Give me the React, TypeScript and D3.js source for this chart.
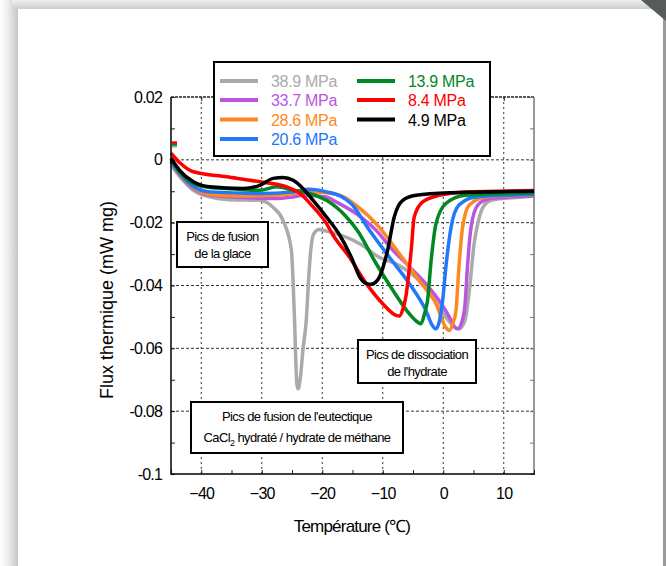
import React, { useEffect, useRef } from 'react';
import * as d3 from 'd3';

// thermograms, [temperature °C, heat flux mW/mg]
const s389: [number, number][] = [
  [-45, -0.0017], [-43.5, -0.0054], [-41.3, -0.0097], [-38.6, -0.0118], [-35.8, -0.0126], [-30.3, -0.0129],
  [-28.2, -0.015], [-26.5, -0.0192], [-25.1, -0.0288], [-24.6, -0.05], [-24.2, -0.0713], [-24.0, -0.0729],
  [-23.6, -0.069], [-23.2, -0.0607], [-22.6, -0.05], [-22.3, -0.0394], [-21.9, -0.0288], [-21.4, -0.0235],
  [-20.5, -0.0222], [-19.9, -0.0224], [-17.7, -0.0235], [-13.8, -0.0267], [-10.6, -0.031], [-7.3, -0.0336],
  [-4, -0.0384], [-1.8, -0.0437], [0.4, -0.05], [1.6, -0.0527], [2.6, -0.0538], [3.6, -0.051], [4.4, -0.04],
  [5.1, -0.0267], [5.8, -0.0195], [6.8, -0.0144], [8.1, -0.0128], [12, -0.012], [15, -0.0115],
];
const s337: [number, number][] = [
  [-45, -0.0006], [-43.5, -0.005], [-41.3, -0.0091], [-38.6, -0.0113], [-33, -0.012], [-27.6, -0.0123],
  [-24.9, -0.0118], [-23.2, -0.0113], [-19.3, -0.0118], [-18.2, -0.0129], [-14.4, -0.0171], [-11.1, -0.0224],
  [-8.3, -0.0288], [-5.6, -0.034], [-2.9, -0.0394], [-0.7, -0.0448], [1.0, -0.05], [1.9, -0.0533],
  [2.4, -0.0538], [3.0, -0.052], [3.6, -0.046], [4.0, -0.034], [4.6, -0.0214], [5.7, -0.0144],
  [7.6, -0.0124], [12, -0.0117], [15, -0.0115],
];
const s286: [number, number][] = [
  [-45, -0.0005], [-43.5, -0.0048], [-41.3, -0.0088], [-38.6, -0.011], [-33, -0.0115], [-27.6, -0.0113],
  [-24.8, -0.0107], [-22.1, -0.0102], [-19.3, -0.0105], [-16.5, -0.0118], [-14.4, -0.0145], [-10.6, -0.0214],
  [-7.25, -0.0299], [-4, -0.0384], [-1.2, -0.0458], [0.4, -0.0533], [1.0, -0.0543], [1.6, -0.052],
  [2.1, -0.048], [2.6, -0.034], [3.2, -0.0214], [4.3, -0.0144], [7, -0.0118], [15, -0.0112],
];
const s206: [number, number][] = [
  [-45, -0.0005], [-43.5, -0.0045], [-41.3, -0.0085], [-38.6, -0.0102], [-30.3, -0.0107], [-24.8, -0.0102],
  [-22.1, -0.0094], [-19.3, -0.0102], [-17, -0.0115], [-15.2, -0.014], [-12.2, -0.0224], [-8.9, -0.031],
  [-5.6, -0.0394], [-2.85, -0.048], [-1.8, -0.0527], [-1.2, -0.0538], [-0.6, -0.051], [-0.1, -0.0448],
  [0.44, -0.034], [1.3, -0.0214], [2.6, -0.0144], [5.4, -0.0118], [15, -0.011],
];
const s139: [number, number][] = [
  [-45, 0], [-43.5, -0.004], [-41.3, -0.0075], [-38.6, -0.0088], [-35.8, -0.0091], [-30.3, -0.0097],
  [-27.6, -0.0086], [-24.8, -0.0097], [-22.1, -0.0107], [-19.3, -0.0129], [-16, -0.0182], [-14.2, -0.0225],
  [-11.1, -0.033], [-8.3, -0.0416], [-5.6, -0.049], [-4.2, -0.0517], [-3.7, -0.0522], [-3.1, -0.049],
  [-2.6, -0.0448], [-2.0, -0.032], [-1.2, -0.0203], [0.44, -0.0139], [3.7, -0.0113], [15, -0.0105],
];
const s84: [number, number][] = [
  [-45, 0.0021], [-43.5, -0.001], [-41.3, -0.0038], [-35.8, -0.0054], [-30.3, -0.007], [-25.9, -0.0086],
  [-23.7, -0.0107], [-21.5, -0.015], [-19.3, -0.0203], [-18.2, -0.024], [-15.5, -0.031], [-12.7, -0.0394],
  [-10, -0.0458], [-7.8, -0.0495], [-7.25, -0.0497], [-6.6, -0.047], [-6.2, -0.0437], [-5.3, -0.0288],
  [-4.8, -0.0182], [-3.4, -0.0134], [-0.7, -0.0113], [3.7, -0.0102], [15, -0.0098],
];
const s49: [number, number][] = [
  [-45, 0.0005], [-43.5, -0.0035], [-41.3, -0.007], [-38.6, -0.0086], [-33.1, -0.0091], [-30.3, -0.0081],
  [-28.1, -0.0059], [-26.5, -0.0056], [-24.8, -0.0065], [-23.2, -0.0091], [-21.5, -0.0129], [-19.3, -0.0182],
  [-17.1, -0.024], [-15.2, -0.031], [-13.8, -0.0373], [-12.7, -0.0394], [-11.9, -0.0396], [-11.2, -0.039],
  [-10.6, -0.0375], [-9.2, -0.0288], [-8.1, -0.0182], [-6.7, -0.0129], [-4.5, -0.0113], [1.0, -0.0105],
  [15, -0.01],
];

const pressures = ['38.9 MPa', '33.7 MPa', '28.6 MPa', '20.6 MPa', '13.9 MPa', '8.4 MPa', '4.9 MPa'];
const colors = ['#aaaaaa', '#bb55dd', '#ff8822', '#2277ff', '#008822', '#ff0000', '#000000'];
const seriesData = [s389, s337, s286, s206, s139, s84, s49];

// little marks at the very start of some traces
const stubColors = ['#aaaaaa', '#008822', '#ff0000'];
const stubValues = [0.0043, 0.0049, 0.0055];

const xMajor = [-40, -30, -20, -10, 0, 10];
const xMinor = d3.range(-45, 15.1, 5);
const yMajor = [0.02, 0, -0.02, -0.04, -0.06, -0.08, -0.1];
const yMinor = d3.range(-0.1, 0.0201, 0.01);

const W = 666, H = 566;
const L = 171, R = 534, T = 97, B = 474;
const font = "'Liberation Sans', Arial, sans-serif";

const App = () => {
  const ref = useRef<SVGSVGElement>(null);

  useEffect(() => {
    const svg = d3.select(ref.current);
    svg.selectAll('*').remove();

    const x = d3.scaleLinear().domain([-45, 15]).range([L, R]);
    const y = d3.scaleLinear().domain([-0.1, 0.02]).range([B, T]);

    // page frame
    const defs = svg.append('defs');
    const lg = defs.append('linearGradient').attr('id', 'shL').attr('x1', 0).attr('x2', 1).attr('y1', 0).attr('y2', 0);
    lg.append('stop').attr('offset', 0).attr('stop-color', '#ffffff');
    lg.append('stop').attr('offset', 0.35).attr('stop-color', '#f3f3f3');
    lg.append('stop').attr('offset', 1).attr('stop-color', '#c6c6c6');
    const tg = defs.append('linearGradient').attr('id', 'shT').attr('x1', 0).attr('x2', 0).attr('y1', 0).attr('y2', 1);
    tg.append('stop').attr('offset', 0).attr('stop-color', '#eeeeee');
    tg.append('stop').attr('offset', 1).attr('stop-color', '#cfcfcf');

    svg.append('rect').attr('width', W).attr('height', H).attr('fill', '#ffffff');
    svg.append('rect').attr('x', 0).attr('y', 0).attr('width', 18).attr('height', H).attr('fill', 'url(#shL)');
    svg.append('rect').attr('x', 12).attr('y', 0).attr('width', W - 12).attr('height', 9).attr('fill', 'url(#shT)');
    svg.append('rect').attr('x', 18).attr('y', 9).attr('width', 645).attr('height', H - 9).attr('fill', '#ffffff');
    svg.append('rect').attr('x', 663).attr('y', 9).attr('width', 3).attr('height', H - 9).attr('fill', '#9a9a9a');
    svg.append('polygon').attr('points', `641,0 ${W},0 ${W},21`).attr('fill', '#565b5b');

    const g = svg.append('g');

    // grid
    g.selectAll('.gx').data(xMajor).join('line')
      .attr('x1', d => x(d)).attr('x2', d => x(d)).attr('y1', T).attr('y2', B)
      .attr('stroke', '#333').attr('stroke-width', 1).attr('stroke-dasharray', '2,3');
    g.selectAll('.gy').data(yMajor.slice(1, -1)).join('line')
      .attr('x1', L).attr('x2', R).attr('y1', d => y(d)).attr('y2', d => y(d))
      .attr('stroke', '#333').attr('stroke-width', 1).attr('stroke-dasharray', '3,2');

    // top border (dotted) and right border (grey)
    g.append('line').attr('x1', L).attr('x2', R).attr('y1', T).attr('y2', T)
      .attr('stroke', '#222').attr('stroke-width', 1.5).attr('stroke-dasharray', '3,1');
    g.append('line').attr('x1', R).attr('x2', R).attr('y1', T).attr('y2', B)
      .attr('stroke', '#999').attr('stroke-width', 2);

    // inward minor ticks
    const tickStyle = (sel: any) => {
      sel.select('.domain').remove();
      sel.selectAll('line').attr('stroke', '#222');
    };
    g.append('g').attr('transform', `translate(${L},0)`)
      .call(d3.axisRight(y).tickValues(yMinor).tickSize(4).tickFormat(() => '') as any).call(tickStyle);
    g.append('g').attr('transform', `translate(${R},0)`)
      .call(d3.axisLeft(y).tickValues(yMinor).tickSize(4).tickFormat(() => '') as any).call(tickStyle)
      .selectAll('line').attr('stroke', '#777');
    g.append('g').attr('transform', `translate(0,${B})`)
      .call(d3.axisTop(x).tickValues(xMinor).tickSize(4).tickFormat(() => '') as any).call(tickStyle);
    g.append('g').attr('transform', `translate(0,${T})`)
      .call(d3.axisBottom(x).tickValues(xMajor).tickSize(4).tickFormat(() => '') as any).call(tickStyle);

    // tick labels
    const yAxis = g.append('g').attr('transform', `translate(${L},0)`)
      .call(d3.axisLeft(y).tickValues(yMajor).tickSize(0).tickPadding(9)
        .tickFormat((d: any) => (d === 0 ? '0' : String(+(+d).toFixed(2)))) as any);
    yAxis.select('.domain').remove();
    yAxis.selectAll('text').attr('font-family', font).attr('font-size', 16).attr('letter-spacing', -0.8).attr('fill', '#000');

    const xAxis = g.append('g').attr('transform', `translate(0,${B})`)
      .call(d3.axisBottom(x).tickValues(xMajor).tickSize(0).tickPadding(14).tickFormat(d3.format('d')) as any);
    xAxis.select('.domain').remove();
    xAxis.selectAll('text').attr('font-family', font).attr('font-size', 16).attr('letter-spacing', -0.7).attr('fill', '#000');

    // curves
    const line = d3.line<[number, number]>()
      .x(d => x(d[0])).y(d => y(d[1])).curve(d3.curveMonotoneX);
    g.selectAll('.curve').data(seriesData).join('path')
      .attr('fill', 'none').attr('stroke', (_, i) => colors[i]).attr('stroke-width', 3.5)
      .attr('stroke-linejoin', 'round').attr('d', d => line(d));

    g.selectAll('.stub').data(stubValues).join('line')
      .attr('x1', x(-45) + 1).attr('x2', x(-44)).attr('y1', d => y(d)).attr('y2', d => y(d))
      .attr('stroke', (_, i) => stubColors[i]).attr('stroke-width', 2.5);

    // axes lines
    g.append('line').attr('x1', L).attr('x2', L).attr('y1', T).attr('y2', B + 0.75).attr('stroke', '#000').attr('stroke-width', 1.5);
    g.append('line').attr('x1', L).attr('x2', R + 1).attr('y1', B).attr('y2', B).attr('stroke', '#000').attr('stroke-width', 1.5);

    // axis titles
    g.append('text').attr('x', 352).attr('y', 532).attr('text-anchor', 'middle')
      .attr('font-family', font).attr('font-size', 17).attr('letter-spacing', -0.8).text('Température  (℃)');
    g.append('text').attr('transform', `translate(113,${300}) rotate(-90)`).attr('text-anchor', 'middle')
      .attr('font-family', font).attr('font-size', 18).attr('letter-spacing', 0).text('Flux thermique  (mW mg)');

    // legend
    const leg = g.append('g');
    leg.append('rect').attr('x', 214).attr('y', 62).attr('width', 276).attr('height', 94)
      .attr('fill', '#fff').attr('stroke', '#000').attr('stroke-width', 2);
    const rowY = [81, 100, 119.5, 139];
    pressures.forEach((p, i) => {
      const col = i < 4 ? 0 : 1;
      const row = i < 4 ? i : i - 4;
      const x0 = col === 0 ? 220 : 357;
      leg.append('line').attr('x1', x0).attr('x2', x0 + 38).attr('y1', rowY[row]).attr('y2', rowY[row])
        .attr('stroke', colors[i]).attr('stroke-width', 4);
      leg.append('text').attr('x', x0 + 51).attr('y', rowY[row] + 6).attr('font-family', font)
        .attr('font-size', 16).attr('letter-spacing', -0.3).attr('fill', colors[i]).text(p);
    });

    // annotations
    const note = (x0: number, y0: number, w: number, h: number) =>
      g.append('rect').attr('x', x0).attr('y', y0).attr('width', w).attr('height', h)
        .attr('fill', '#fff').attr('stroke', '#000').attr('stroke-width', 2);
    const noteText = (cx: number, by: number) =>
      g.append('text').attr('x', cx).attr('y', by).attr('text-anchor', 'middle')
        .attr('font-family', font).attr('font-size', 13).attr('letter-spacing', -0.6);

    note(177, 222, 91, 45);
    noteText(222.5, 241).text('Pics de fusion');
    noteText(222.5, 258).text('de la glace');

    note(358, 340, 118, 43);
    noteText(417, 359).text('Pics de dissociation');
    noteText(417, 376).text("de l'hydrate");

    note(191, 402, 212, 51);
    noteText(297, 421).text("Pics de fusion de l'eutectique");
    const t2 = noteText(297, 442);
    t2.append('tspan').text('CaCl');
    t2.append('tspan').attr('dy', 4).attr('font-size', 9).text('2');
    t2.append('tspan').attr('dy', -4).text(' hydraté / hydrate de méthane');
  }, []);

  return (
    <div style={{ position: 'absolute', left: 0, top: 0 }}>
      <svg ref={ref} width={W} height={H}></svg>
    </div>
  );
};

export default App;
